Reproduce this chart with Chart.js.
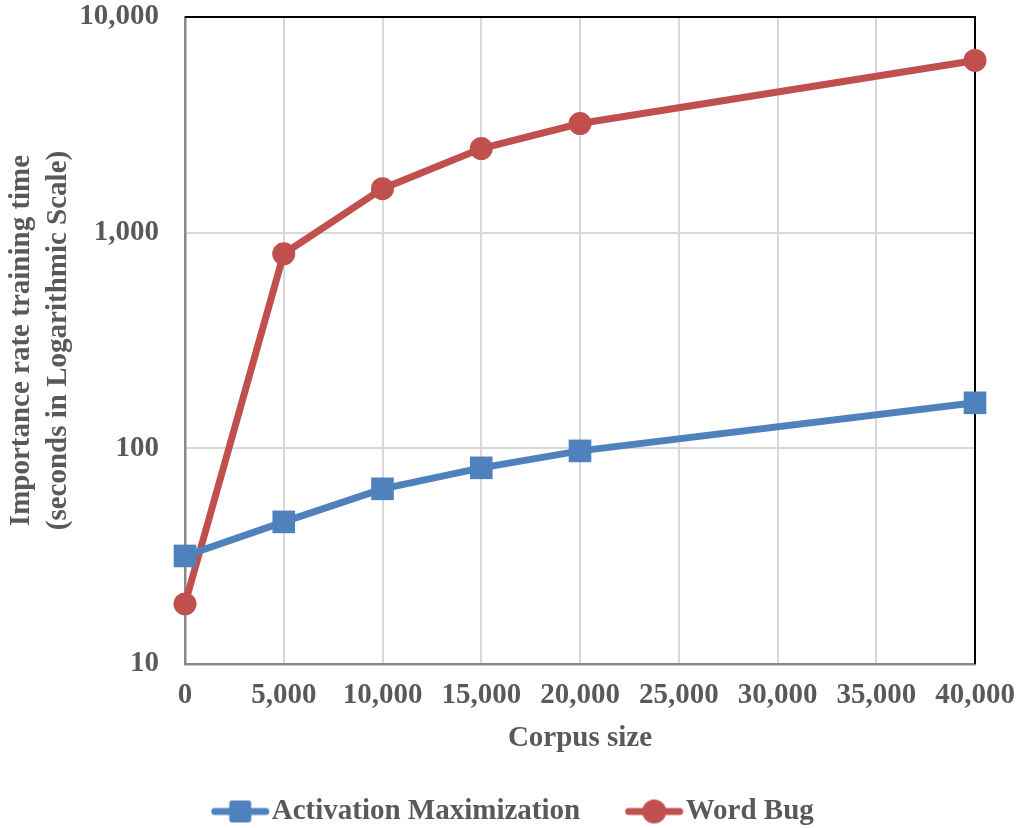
<!DOCTYPE html>
<html><head><meta charset="utf-8">
<script src="https://cdn.jsdelivr.net/npm/chart.js@4.4.0/dist/chart.umd.min.js"></script>
<style>html,body{margin:0;padding:0;background:#fff}#wrap{width:1022px;height:828px;position:relative}canvas{display:block}</style>
</head><body><div id="wrap"><canvas id="c" width="1022" height="828"></canvas></div>
<script>
const corpusSizes = [0, 5000, 10000, 15000, 20000, 40000];
const activationMax = [31.7, 45.6, 64.9, 81.2, 97.3, 162.6];
const wordBug = [19.0, 798, 1600, 2455, 3206, 6287];
const yTicks = [10, 100, 1000, 10000];
const seriesNames = ['Activation Maximization', 'Word Bug'];
const yTitle = ['Importance rate training time', '(seconds in Logarithmic Scale)'];
const xTitle = 'Corpus size';

const BLUE = '#4F81BD', RED = '#C0504D', TXT = '#595959';
const FAM = '"Liberation Serif", "Times New Roman", serif';
const FS = 29;

function legendIcon(color, shape) {
  const c = document.createElement('canvas');
  c.width = 120; c.height = 28;
  const g = c.getContext('2d');
  g.strokeStyle = color; g.fillStyle = color; g.lineWidth = 7; g.lineCap = 'round';
  g.beginPath(); g.moveTo(58, 14); g.lineTo(109, 14); g.stroke();
  const cx = 83.5, cy = 14;
  if (shape === 'rect') {
    const s = 22, r = 3;
    g.beginPath();
    if (g.roundRect) g.roundRect(cx - s/2, cy - s/2, s, s, r); else g.rect(cx - s/2, cy - s/2, s, s);
    g.fill();
  } else {
    g.beginPath(); g.arc(cx, cy, 12, 0, Math.PI*2); g.fill();
  }
  return c;
}
const icons = [legendIcon(BLUE, 'rect'), legendIcon(RED, 'circle')];

const frameBorder = {
  id: 'frameBorder',
  afterLayout(chart) {
    if (chart.legend) { chart.legend.top += 8; chart.legend.bottom += 8; }
  },
  beforeDatasetsDraw(chart) {
    const {ctx, chartArea: a} = chart;
    ctx.save();
    ctx.strokeStyle = '#000'; ctx.lineWidth = 2;
    ctx.beginPath();
    ctx.moveTo(a.left, a.top); ctx.lineTo(a.right, a.top); ctx.lineTo(a.right, a.bottom);
    ctx.stroke();
    ctx.restore();
  }
};

new Chart(document.getElementById('c'), {
  type: 'line',
  data: {
    datasets: [
      { label: seriesNames[0], data: corpusSizes.map((x, i) => ({x, y: activationMax[i]})),
        borderColor: BLUE, backgroundColor: BLUE, borderWidth: 7, pointStyle: 'rect',
        pointRadius: 16, pointBorderWidth: 0, tension: 0, clip: false },
      { label: seriesNames[1], data: corpusSizes.map((x, i) => ({x, y: wordBug[i]})),
        borderColor: RED, backgroundColor: RED, borderWidth: 7, pointStyle: 'circle',
        pointRadius: 11.5, pointBorderWidth: 0, tension: 0, clip: false }
    ]
  },
  options: {
    responsive: false, animation: false, devicePixelRatio: 1,
    layout: { padding: { left: 15, right: 47, top: 17, bottom: 0 } },
    scales: {
      x: {
        type: 'linear', min: 0, max: 40000,
        ticks: { stepSize: 5000, padding: 14, color: TXT, font: { family: FAM, size: FS, weight: 'bold' } },
        grid: { color: '#d9d9d9', lineWidth: 2, drawTicks: false },
        border: { color: '#888', width: 2.5 },
        title: { display: true, text: xTitle, color: TXT, padding: { top: 4, bottom: 22.6 }, font: { family: FAM, size: FS, weight: 'bold' } },
        afterFit(s) { s.height = 115; s.paddingLeft = 0; s.paddingRight = 0; }
      },
      y: {
        type: 'logarithmic', min: 10, max: 10000,
        afterBuildTicks(s) { s.ticks = yTicks.map(v => ({ value: v })); },
        ticks: { padding: 26, color: TXT, font: { family: FAM, size: FS, weight: 'bold' },
          callback: v => Number(v).toLocaleString('en-US') },
        grid: { color: '#d9d9d9', lineWidth: 2, drawTicks: false },
        border: { color: '#888', width: 2.5 },
        title: { display: true, text: yTitle, color: TXT, padding: { top: -12, bottom: 0 }, font: { family: FAM, size: FS, weight: 'bold', lineHeight: 1.28 } },
        afterFit(s) { s.width = 170; s.paddingTop = 0; s.paddingBottom = 0; }
      }
    },
    plugins: {
      tooltip: { enabled: false },
      legend: {
        position: 'bottom',
        labels: {
          usePointStyle: true, pointStyleWidth: 81, padding: 10, color: TXT,
          font: { family: FAM, size: FS, weight: 'bold' },
          generateLabels(chart) {
            const items = Chart.defaults.plugins.legend.labels.generateLabels(chart);
            items.forEach((it, i) => { it.pointStyle = icons[i]; });
            return items;
          }
        }
      }
    }
  },
  plugins: [frameBorder]
});
</script>
</body></html>
